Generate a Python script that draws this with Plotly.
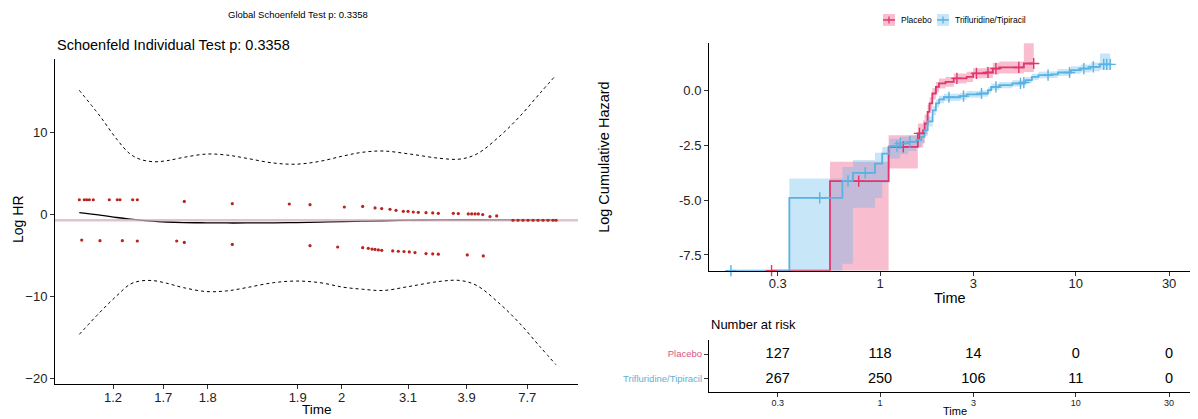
import plotly.graph_objects as go

# page body has an 8px margin: the figure is sized to the visible window area
PAGE_OFFSET = 8
W, H = 1198 - PAGE_OFFSET, 419 - PAGE_OFFSET
FONT = "Liberation Sans, Arial, sans-serif"

# ---------------- Left panel: Schoenfeld residuals ----------------
# x is transformed (km) time on a 0..1 scale; ticks labelled with real times
TIME_TICK_POS = [0.111, 0.207, 0.292, 0.464, 0.548, 0.675, 0.787, 0.903]
TIME_TICK_LABELS = ["1.2", "1.7", "1.8", "1.9", "2", "3.1", "3.9", "7.7"]

RES_UPPER_X = [0.0465, 0.0560, 0.0606, 0.0656, 0.0732, 0.1038, 0.1191, 0.1243, 0.1486, 0.1574,
               0.2472, 0.3390, 0.4480, 0.4876, 0.5532, 0.5883, 0.6119, 0.6247, 0.6405, 0.6520,
               0.6660, 0.6750, 0.6851, 0.6946, 0.7094, 0.7222, 0.7329, 0.7616, 0.7711, 0.7902,
               0.7967, 0.8031, 0.8094, 0.8178, 0.8317, 0.8445]
RES_UPPER_Y = [1.81, 1.81, 1.81, 1.81, 1.81, 1.81, 1.81, 1.81, 1.81, 1.81,
               1.61, 1.33, 1.29, 1.21, 0.93, 1.00, 0.81, 0.73, 0.65, 0.52,
               0.40, 0.40, 0.32, 0.28, 0.24, 0.20, 0.16, 0.16, 0.12, 0.08,
               0.08, 0.08, 0.08, 0.00, -0.24, -0.16]
RES_LOWER_X = [0.0511, 0.0860, 0.1287, 0.1574, 0.2327, 0.2472, 0.3390, 0.4876, 0.5405, 0.5883,
               0.5990, 0.6061, 0.6119, 0.6182, 0.6247, 0.6457, 0.6564, 0.6673, 0.6774, 0.6883,
               0.7094, 0.7222, 0.7329, 0.7883, 0.8189]
RES_LOWER_Y = [-3.10, -3.18, -3.18, -3.22, -3.22, -3.39, -3.63, -3.79, -3.95, -4.03,
               -4.11, -4.20, -4.25, -4.31, -4.35, -4.43, -4.47, -4.50, -4.55, -4.63,
               -4.75, -4.79, -4.83, -4.92, -5.04]
RES_LATE_X = [0.8757, 0.8853, 0.8948, 0.9044, 0.9140, 0.9235, 0.9331, 0.9426, 0.9522, 0.9580]
RES_LATE_Y = [-0.69] * 10

CURVE_X = [0.0465, 0.086, 0.118, 0.1434, 0.1625, 0.188, 0.2136, 0.2453, 0.29, 0.3283,
           0.3665, 0.4174, 0.4621, 0.5067, 0.5512, 0.5883, 0.6277, 0.6788, 0.7361, 0.7744,
           0.8063, 0.8509, 0.8891, 0.9273, 0.9579]
SMOOTH_Y = [0.25, -0.05, -0.35, -0.55, -0.68, -0.80, -0.90, -0.97, -1.00, -1.02,
            -1.02, -1.00, -0.98, -0.92, -0.85, -0.80, -0.75, -0.68, -0.64, -0.63,
            -0.63, -0.64, -0.64, -0.64, -0.64]
UPPER_Y = [15.15, 12.0, 9.2, 7.4, 6.75, 6.45, 6.57, 6.97, 7.38, 7.26,
           6.86, 6.29, 6.15, 6.5, 7.15, 7.6, 7.75, 7.38, 6.86, 6.77,
           7.38, 9.6, 12.0, 14.8, 17.0]
LOWER_Y = [-14.6, -11.9, -9.9, -8.5, -8.1, -8.05, -8.37, -8.9, -9.38, -9.3,
           -8.9, -8.3, -8.1, -8.3, -8.85, -9.1, -9.25, -8.74, -8.14, -8.03,
           -8.64, -10.9, -13.3, -16.1, -18.3]
BETA = -0.69
LEFT_YTICKS = [-20, -10, 0, 10]

# ---------------- Right panel: log cumulative hazard ----------------
NEG_INF = None  # log(0) -> drawn at the panel floor

PLACEBO_T = [0.279, 0.555, 1.106, 1.56, 1.66, 1.69, 1.75, 1.79, 1.85, 1.93, 2.0, 2.16,
             2.38, 2.77, 2.99, 3.49, 3.77, 4.07, 5.43, 6.1]
PLACEBO_Y = [NEG_INF, -4.13, -2.57, -1.95, -1.80, -1.50, -0.97, -0.58, -0.13, 0.17, 0.33, 0.40,
             0.56, 0.63, 0.79, 0.83, 1.01, 1.06, 1.24, 1.24]
PLACEBO_UP = [NEG_INF, -3.25, -2.03, -1.50, -1.35, -1.10, -0.65, -0.30, 0.12, 0.40, 0.55, 0.62,
              0.78, 0.86, 1.02, 1.07, 1.27, 1.33, 2.20, 2.20]
PLACEBO_LO = [NEG_INF, NEG_INF, -3.55, -2.60, -2.40, -2.00, -1.35, -0.90, -0.40, -0.08, 0.10, 0.18,
              0.33, 0.40, 0.55, 0.58, 0.74, 0.78, 0.85, 0.85]
PLACEBO_CENS_T = [0.279, 0.778, 1.315, 1.59, 2.47, 3.11, 3.56, 3.91, 5.12, 6.1]
PLACEBO_CENS_Y = [NEG_INF, -4.13, -2.57, -1.95, 0.56, 0.79, 0.83, 1.01, 1.06, 1.24]

TRIF_T = [0.173, 0.344, 0.642, 0.727, 0.942, 1.026, 1.115, 1.266, 1.392, 1.533, 1.624, 1.687,
          1.752, 1.856, 1.929, 2.004, 2.12, 2.57, 2.77, 3.24, 3.56, 3.70, 4.07, 4.74, 5.32,
          5.53, 5.97, 6.45, 7.51, 8.11, 9.46, 10.6, 11.9, 13.3, 15.0]
TRIF_Y = [NEG_INF, -4.89, -4.12, -3.75, -3.33, -2.87, -2.53, -2.41, -2.34, -2.26, -2.11, -1.80,
          -1.40, -0.90, -0.58, -0.40, -0.30, -0.25, -0.17, -0.13, 0.02, 0.17, 0.25, 0.33, 0.37,
          0.48, 0.63, 0.71, 0.74, 0.83, 0.94, 1.01, 1.09, 1.20, 1.20]
TRIF_UP = [NEG_INF, -4.01, -3.48, -3.17, -2.84, -2.57, -2.20, -2.10, -2.05, -1.98, -1.85, -1.55,
           -1.17, -0.70, -0.40, -0.23, -0.14, -0.10, -0.02, 0.02, 0.16, 0.31, 0.39, 0.47, 0.51,
           0.62, 0.77, 0.86, 0.89, 0.99, 1.11, 1.19, 1.29, 1.70, 1.70]
TRIF_LO = [NEG_INF, NEG_INF, -7.90, -5.35, -4.90, -4.20, -3.10, -2.90, -2.75, -2.60, -2.40, -2.07,
           -1.64, -1.12, -0.77, -0.58, -0.47, -0.41, -0.32, -0.28, -0.12, 0.03, 0.11, 0.19, 0.23,
           0.34, 0.49, 0.56, 0.59, 0.67, 0.77, 0.83, 0.89, 0.95, 0.95]
TRIF_CENS_T = [0.173, 0.492, 0.686, 0.84, 1.22, 1.27, 1.42, 2.25, 2.67, 3.3, 3.91, 5.22, 5.43,
               7.22, 9.3, 11.0, 12.3, 13.9, 14.4, 15.0]
TRIF_CENS_Y = [NEG_INF, -4.89, -4.12, -3.75, -2.53, -2.41, -2.34, -0.30, -0.25, -0.13, 0.17, 0.33,
               0.37, 0.71, 0.83, 1.01, 1.09, 1.20, 1.20, 1.20]

RISK_TIMES = [0.3, 1, 3, 10, 30]
RISK_PLACEBO = [127, 118, 14, 0, 0]
RISK_TRIF = [267, 250, 106, 11, 0]
GROUPS = ["Placebo", "Trifluridine/Tipiracil"]

PINK = "#E2356B"
BLUE = "#5AB2E3"
PINK_FILL = "rgba(231,41,100,0.30)"
BLUE_FILL = "rgba(86,180,233,0.33)"
RED_PT = "#B8241F"

Y2_MIN, Y2_MAX = -8.22, 2.17
X2_RANGE = [-0.874, 1.589]   # log10 of time (0.134 .. 38.8)


def floor(vals):
    return [Y2_MIN if v is None else v for v in vals]


def band_polygon(t, up, lo):
    up, lo = floor(up), floor(lo)
    xs, ys = [], []
    for i in range(len(t) - 1):
        xs += [t[i], t[i + 1]]
        ys += [up[i], up[i]]
    for i in reversed(range(len(t) - 1)):
        xs += [t[i + 1], t[i]]
        ys += [lo[i], lo[i]]
    return xs, ys


def px_x(p):
    return (p - PAGE_OFFSET) / W


def px_y(p):
    return 1 - (p - PAGE_OFFSET) / H


fig = go.Figure()

# ---- left panel traces
dash_line = dict(color="black", width=1, dash="3px,3px")
fig.add_trace(go.Scatter(x=CURVE_X, y=UPPER_Y, mode="lines", line=dict(shape="spline", **dash_line),
                         xaxis="x", yaxis="y", showlegend=False))
fig.add_trace(go.Scatter(x=CURVE_X, y=LOWER_Y, mode="lines", line=dict(shape="spline", **dash_line),
                         xaxis="x", yaxis="y", showlegend=False))
fig.add_trace(go.Scatter(x=CURVE_X, y=SMOOTH_Y, mode="lines",
                         line=dict(color="black", width=1.3, shape="spline"),
                         xaxis="x", yaxis="y", showlegend=False))
fig.add_trace(go.Scatter(x=[0, 1], y=[BETA, BETA], mode="lines",
                         line=dict(color="rgba(215,175,190,0.75)", width=2.5),
                         xaxis="x", yaxis="y", showlegend=False))
for xs, ys in [(RES_UPPER_X, RES_UPPER_Y), (RES_LOWER_X, RES_LOWER_Y), (RES_LATE_X, RES_LATE_Y)]:
    fig.add_trace(go.Scatter(x=xs, y=ys, mode="markers",
                             marker=dict(color=RED_PT, size=3.2, line=dict(width=0)),
                             xaxis="x", yaxis="y", showlegend=False))

# ---- right panel ribbons
for t, up, lo, fillc in [(PLACEBO_T, PLACEBO_UP, PLACEBO_LO, PINK_FILL),
                         (TRIF_T, TRIF_UP, TRIF_LO, BLUE_FILL)]:
    bx, by = band_polygon(t, up, lo)
    fig.add_trace(go.Scatter(x=bx, y=by, mode="lines", fill="toself", fillcolor=fillc,
                             line=dict(width=0), xaxis="x2", yaxis="y2", showlegend=False,
                             hoverinfo="skip"))
# step lines
for t, y, c in [(PLACEBO_T, PLACEBO_Y, PINK), (TRIF_T, TRIF_Y, BLUE)]:
    fig.add_trace(go.Scatter(x=t, y=floor(y), mode="lines", line=dict(color=c, width=1.8, shape="hv"),
                             xaxis="x2", yaxis="y2", showlegend=False))
# censor marks
for t, y, c in [(PLACEBO_CENS_T, PLACEBO_CENS_Y, PINK), (TRIF_CENS_T, TRIF_CENS_Y, BLUE)]:
    fig.add_trace(go.Scatter(x=t, y=floor(y), mode="markers", cliponaxis=False,
                             marker=dict(symbol="cross-thin", size=8, line=dict(color=c, width=1.4)),
                             xaxis="x2", yaxis="y2", showlegend=False))

# ---- risk table
fig.add_trace(go.Scatter(x=RISK_TIMES, y=[2] * len(RISK_TIMES), mode="text",
                         text=[str(v) for v in RISK_PLACEBO],
                         textfont=dict(family=FONT, size=14.5, color="black"),
                         xaxis="x3", yaxis="y3", showlegend=False, cliponaxis=False))
fig.add_trace(go.Scatter(x=RISK_TIMES, y=[1] * len(RISK_TIMES), mode="text",
                         text=[str(v) for v in RISK_TRIF],
                         textfont=dict(family=FONT, size=14.5, color="black"),
                         xaxis="x3", yaxis="y3", showlegend=False, cliponaxis=False))

axis_common = dict(showline=True, linecolor="black", linewidth=1, ticks="outside", ticklen=4,
                   tickcolor="#333333", tickwidth=1, showgrid=False, zeroline=False,
                   tickfont=dict(family=FONT, size=13, color="#222222"))

fig.update_layout(
    width=W, height=H, margin=dict(l=0, r=0, t=0, b=0),
    paper_bgcolor="white", plot_bgcolor="white", showlegend=False,
    xaxis=dict(domain=[px_x(55), px_x(578)], range=[0, 1], tickmode="array",
               tickvals=TIME_TICK_POS, ticktext=TIME_TICK_LABELS, anchor="y",
               ticklabelstandoff=-3, **axis_common),
    yaxis=dict(domain=[px_y(386), px_y(59)], range=[-20.67, 19.0], tickmode="array",
               tickvals=LEFT_YTICKS, anchor="x", **axis_common),
    xaxis2=dict(domain=[px_x(709), px_x(1191)], type="log", range=X2_RANGE, tickmode="array",
                tickvals=[0.3, 1, 3, 10, 30], ticktext=["0.3", "1", "3", "10", "30"],
                anchor="y2", ticklabelstandoff=-3, **axis_common),
    yaxis2=dict(domain=[px_y(272), px_y(43.3)], range=[Y2_MIN, Y2_MAX], tickmode="array",
                tickvals=[-7.5, -5.0, -2.5, 0.0], ticktext=["-7.5", "-5.0", "-2.5", "0.0"],
                anchor="x2", **axis_common),
    xaxis3=dict(domain=[px_x(709), px_x(1191)], type="log", range=X2_RANGE, tickmode="array",
                tickvals=RISK_TIMES, ticktext=["0.3", "1", "3", "10", "30"], anchor="y3",
                ticklabelstandoff=-2,
                **{**axis_common, "tickfont": dict(family=FONT, size=9, color="#222222")}),
    yaxis3=dict(domain=[px_y(394), px_y(342)], range=[0.469, 2.551], tickmode="array",
                tickvals=[2, 1],
                ticktext=[f"<span style='color:#D9557E'>{GROUPS[0]}</span>",
                          f"<span style='color:#5FB0D4'>{GROUPS[1]}</span>"],
                anchor="x3", **{**axis_common, "tickfont": dict(family=FONT, size=9.5)}),
)

ann = []


def text(x, y, s, size, xanchor="center", angle=0, color="black"):
    ann.append(dict(x=x, y=y, xref="paper", yref="paper", text=s, showarrow=False,
                    xanchor=xanchor, yanchor="middle", textangle=angle,
                    font=dict(family=FONT, size=size, color=color)))


text(px_x(297.5), px_y(15), "Global Schoenfeld Test p: 0.3358", 9.5)
text(px_x(55), px_y(45), "Schoenfeld Individual Test p: 0.3358", 14.5, xanchor="left")
text(px_x(18), px_y(221), "Log HR", 14, angle=-90)
text(px_x(317), px_y(411), "Time", 13.5)
text(px_x(604), px_y(157.6), "Log Cumulative Hazard", 14.5, angle=-90)
text(px_x(950), px_y(299), "Time", 14.5)
text(px_x(709), px_y(326), "Number at risk", 13, xanchor="left")
text(px_x(955), px_y(413), "Time", 11)

# manual legend
shapes = []
for cx, col, fillc in [(889, PINK, PINK_FILL), (943, BLUE, BLUE_FILL)]:
    shapes.append(dict(type="rect", xref="paper", yref="paper", x0=px_x(cx - 6), x1=px_x(cx + 6),
                       y0=px_y(26), y1=px_y(14), fillcolor=fillc, line=dict(width=0)))
    shapes.append(dict(type="line", xref="paper", yref="paper", x0=px_x(cx - 6), x1=px_x(cx + 6),
                       y0=px_y(20), y1=px_y(20), line=dict(color=col, width=1.5)))
    shapes.append(dict(type="line", xref="paper", yref="paper", x0=px_x(cx), x1=px_x(cx),
                       y0=px_y(16.5), y1=px_y(23.5), line=dict(color=col, width=1.3)))
text(px_x(899), px_y(20), GROUPS[0], 8.5, xanchor="left")
text(px_x(953), px_y(20), GROUPS[1], 8.5, xanchor="left")

fig.update_layout(annotations=ann, shapes=shapes)
fig.write_html("out.html")
